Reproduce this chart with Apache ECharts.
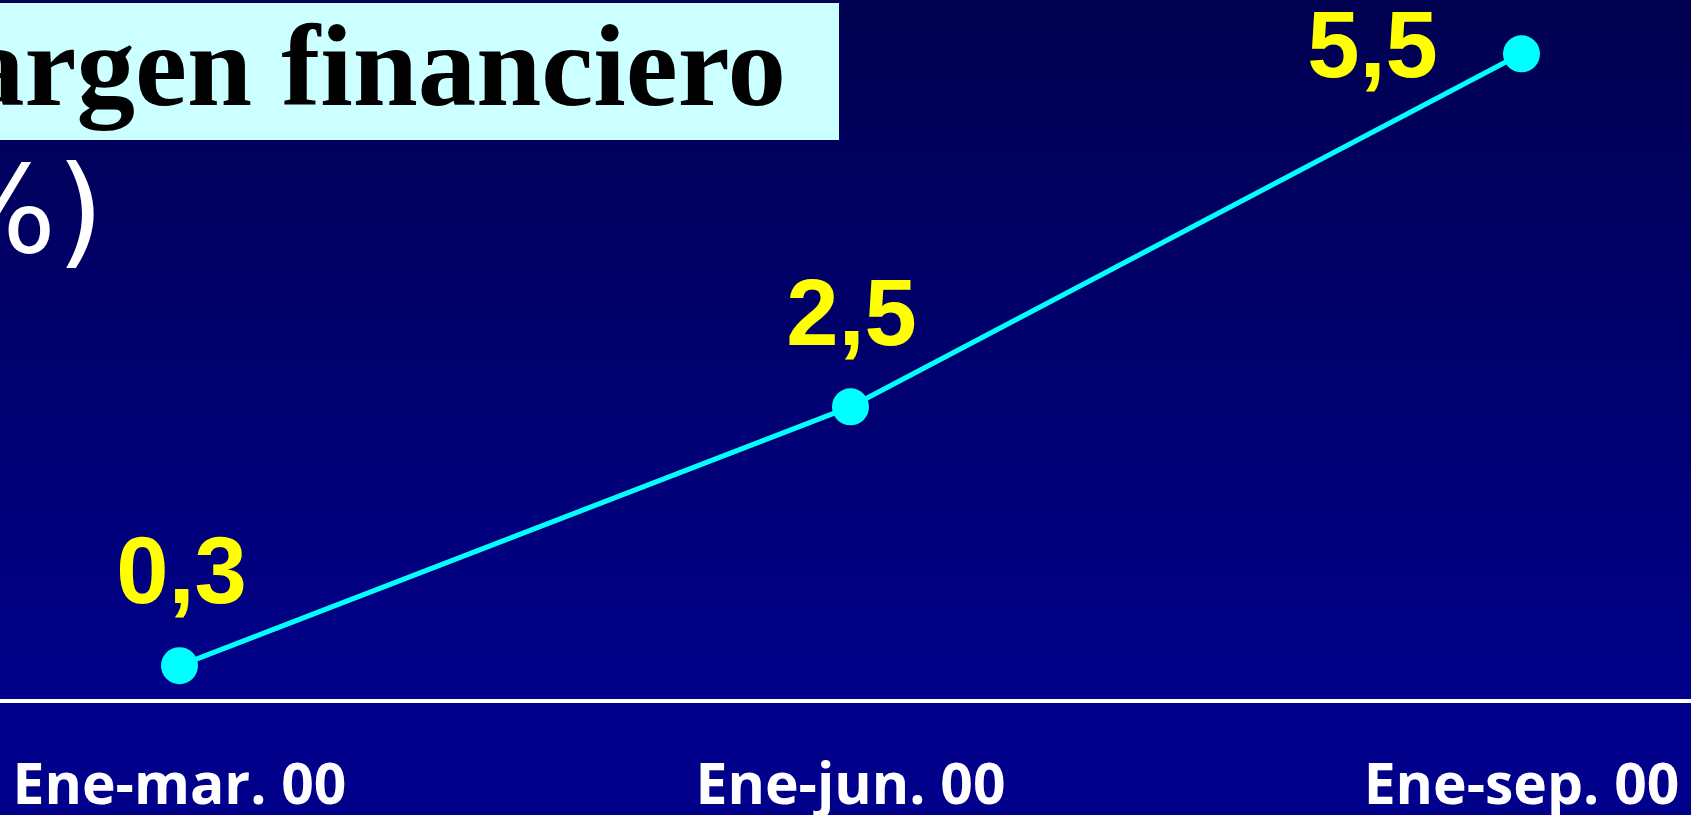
<!DOCTYPE html>
<html>
<head>
<meta charset="utf-8">
<script src="https://cdn.jsdelivr.net/npm/echarts@6/dist/echarts.min.js"></script>
<style>
html,body{margin:0;padding:0;background:#000070;}
#chart{width:1691px;height:815px;}
</style>
</head>
<body>
<div id="chart"></div>
<script>
// ---- data ----
const categories = ['Ene-mar. 00', 'Ene-jun. 00', 'Ene-sep. 00'];
const values = [0.3, 2.5, 5.5];
const titleText = 'Margen financiero';
const unitText = '(%)';

// ---- label placement (style, not data) ----
const labelOffsets = [[2, -89], [1, -88], [-149, -3]];

const chart = echarts.init(document.getElementById('chart'), null, {renderer: 'canvas'});

const seriesData = values.map((v, i) => ({
  value: v,
  label: { offset: labelOffsets[i] }
}));

chart.setOption({
  animation: false,
  backgroundColor: {
    type: 'linear', x: 0, y: 0, x2: 0, y2: 1,
    colorStops: [
      {offset: 0, color: '#000050'},
      {offset: 0.86, color: '#00008a'},
      {offset: 1, color: '#00008b'}
    ]
  },
  grid: { left: -156, right: -166, top: -5, bottom: 114, containLabel: false, outerBoundsMode: 'none' },
  xAxis: {
    type: 'category',
    data: categories,
    boundaryGap: true,
    axisLine: { show: true, lineStyle: { color: '#ffffff', width: 4 } },
    axisTick: { show: false },
    splitLine: { show: false },
    axisLabel: {
      color: '#ffffff',
      fontFamily: 'Open Sans',
      fontWeight: 'bold',
      fontSize: 57,
      margin: 58,
      interval: 0
    }
  },
  yAxis: {
    type: 'value',
    min: 0,
    max: 6,
    show: false,
    splitLine: { show: false }
  },
  series: [{
    type: 'line',
    data: seriesData,
    symbol: 'circle',
    symbolSize: 37,
    lineStyle: { color: '#00ffff', width: 5 },
    itemStyle: { color: '#00ffff' },
    label: {
      show: true,
      position: 'inside',
      color: '#ffff00',
      fontFamily: 'Liberation Sans',
      fontWeight: 'bold',
      fontSize: 94,
      formatter: p => String(p.value).replace('.', ',')
    }
  }],
  graphic: [
    {
      type: 'rect',
      shape: { x: -10, y: 3, width: 849, height: 137 },
      style: { fill: '#ccffff' },
      z: 10
    },
    {
      type: 'text',
      z: 11,
      style: {
        text: titleText,
        x: 786,
        y: 75,
        textAlign: 'right',
        textVerticalAlign: 'middle',
        font: 'bold 117px "Liberation Serif"',
        fill: '#000000',
        shadowColor: '#ffffff',
        shadowOffsetX: 3,
        shadowOffsetY: 3,
        shadowBlur: 0
      }
    },
    {
      type: 'text',
      z: 11,
      style: {
        text: unitText,
        x: 104,
        y: 220,
        textAlign: 'right',
        textVerticalAlign: 'middle',
        font: '122px "DejaVu Sans"',
        fill: '#ffffff'
      }
    }
  ]
});
</script>
</body>
</html>
